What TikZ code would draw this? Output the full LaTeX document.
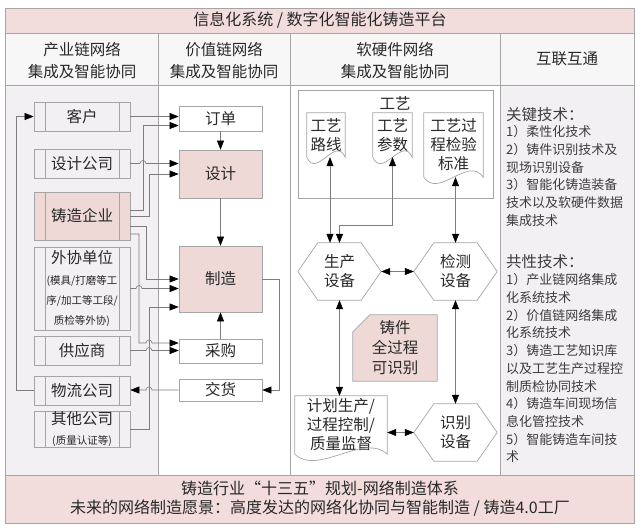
\documentclass[tikz,border=0pt]{standalone}
\usepackage{fontspec}
\setmainfont{Noto Sans CJK SC}
\usetikzlibrary{arrows.meta,calc,backgrounds}

\definecolor{bandpink}{RGB}{242,221,220}
\definecolor{boxpink}{RGB}{238,217,215}
\definecolor{sidegray}{RGB}{242,240,242}
\definecolor{headgray}{RGB}{247,247,247}
\definecolor{framegray}{RGB}{165,165,165}
\definecolor{wiregray}{RGB}{125,125,125}
\definecolor{inkgray}{RGB}{40,40,40}

\newcommand{\minor}{\fontsize{10.5}{15}\selectfont}

% outlines drawn round plain rectangular nodes
\newcommand{\hexframe}[1]{%
  \draw[outline] (#1.west) -- ([xshift=20pt]#1.north west) -- ([xshift=-20pt]#1.north east)
    -- (#1.east) -- ([xshift=-20pt]#1.south east) -- ([xshift=20pt]#1.south west) -- cycle;}
\newcommand{\docframe}[1]{%
  \draw[outline] (#1.south west) -- (#1.north west) -- (#1.north east) -- (#1.south east)
    .. controls ($(#1.south east)!0.5!(#1.south)+(0,-22)$) and ($(#1.south)!0.5!(#1.south west)+(0,22)$) .. (#1.south west);}
\newcommand{\cardframe}[1]{%
  \draw[outline, fill=boxpink] ([xshift=17pt]#1.north west) -- (#1.north east) -- (#1.south east)
    -- (#1.south west) -- ([yshift=-17pt]#1.north west) -- cycle;}

\begin{document}
\begin{tikzpicture}[x=1pt, y=-1pt,
    txt/.style={text=inkgray, font=\fontsize{15.5}{20}\selectfont, align=center, inner sep=0pt},
    note/.style={text=inkgray!90, font=\fontsize{13}{17.7}\selectfont, align=left, inner sep=0pt},
    notehead/.style={text=inkgray!90, font=\fontsize{15.5}{18}\selectfont, inner sep=0pt},
    grid/.style={draw=framegray, line width=0.7pt},
    outline/.style={draw=framegray, line width=0.7pt},
    sidebox/.style={txt, outline, fill=sidegray, minimum width=96pt,
      path picture={\draw[framegray, line width=0.7pt]
        ([xshift=11pt]path picture bounding box.north west) -- ([xshift=11pt]path picture bounding box.south west)
        ([xshift=-11pt]path picture bounding box.north east) -- ([xshift=-11pt]path picture bounding box.south east);}},
    stepbox/.style={txt, outline, fill=white, minimum width=83pt},
    hexa/.style={txt, font=\fontsize{15.5}{19}\selectfont, minimum width=83pt, minimum height=57pt},
    doc/.style={txt, font=\fontsize{15.5}{19}\selectfont, minimum height=44pt},
    card/.style={txt, font=\fontsize{15.5}{20}\selectfont, minimum width=84pt, minimum height=66pt},
    wire/.style={draw=wiregray, line width=0.6pt},
    flow/.style={wire, -{Triangle[length=9pt, width=7pt, color=black]}},
    twoway/.style={wire, {Triangle[length=9pt, width=7pt, color=black]}-{Triangle[length=9pt, width=7pt, color=black]}}]
        \useasboundingbox (0,0) rectangle (640,528);

        % Panels
        \fill[bandpink] (5,8) rectangle (634,33);
        \fill[headgray] (5,33) rectangle (634,85);
        \fill[sidegray] (5,85) rectangle (158,475);
        \fill[sidegray] (500,85) rectangle (634,475);
        \fill[bandpink] (5,475) rectangle (634,523);
        \draw[grid] (5,8) rectangle (634,523);
        \draw[grid] (5,33) -- (634,33) (5,85) -- (634,85) (5,475) -- (634,475);
        \draw[grid] (158,33) -- (158,475) (290,33) -- (290,475) (500,33) -- (500,475);
        \draw[grid] (298,90) rectangle (493,198);

        % Nodes (bands and column heads)
        \node[txt, font=\fontsize{16}{20}\selectfont] (platform) at (320,20.5) {信息化系统 / 数字化智能化铸造平台};
        \node[txt, font=\fontsize{15.5}{22}\selectfont] (colchain) at (82,61) {产业链网络\\集成及智能协同};
        \node[txt, font=\fontsize{15.5}{22}\selectfont] (colvalue) at (224,61) {价值链网络\\集成及智能协同};
        \node[txt, font=\fontsize{15.5}{22}\selectfont] (colsoft) at (395,61) {软硬件网络\\集成及智能协同};
        \node[txt] (collink) at (567,59) {互联互通};
        \node[txt, font=\fontsize{16}{19}\selectfont] (footer) at (320,499) {铸造行业“十三五”规划-网络制造体系\\未来的网络制造愿景：高度发达的网络化协同与智能制造 / 铸造4.0工厂};

        % Nodes (industry chain)
        \node[sidebox, minimum height=29pt] (kehu) at (82,116.5) {客户};
        \node[sidebox, minimum height=29pt] (sjgs) at (82,163.5) {设计公司};
        \node[sidebox, minimum height=48pt, fill=boxpink] (zzqy) at (82,216) {铸造企业};
        \node[sidebox, minimum height=83pt] (wxdw) at (82,288.5) {外协单位\\[1pt]\minor (模具/打磨等工\\\minor 序/加工等工段/\\\minor 质检等外协)};
        \node[sidebox, minimum height=29pt] (gys) at (82,350.5) {供应商};
        \node[sidebox, minimum height=29pt] (wlgs) at (82,390.5) {物流公司};
        \node[sidebox, minimum height=36pt] (qtgs) at (82,429) {其他公司\\\minor (质量认证等)};

        % Nodes (value chain)
        \node[stepbox, minimum height=25pt] (dd) at (220.5,118.5) {订单};
        \node[stepbox, minimum height=48pt, fill=boxpink] (sj) at (220.5,174) {设计};
        \node[stepbox, minimum height=66pt, fill=boxpink] (zz) at (220.5,279) {制造};
        \node[stepbox, minimum height=24pt] (cg) at (220.5,351) {采购};
        \node[stepbox, minimum height=22pt] (jh) at (220.5,390) {交货};

        % Nodes (software and hardware)
        \node[txt] (gongyi) at (395,103) {工艺};
        \node[doc, minimum width=38pt] (gylx) at (326,135) {工艺\\路线};
        \node[doc, minimum width=39pt] (gycs) at (392.5,135) {工艺\\参数};
        \node[doc, minimum width=59pt, minimum height=64pt] (gybz) at (453.5,145) {工艺过\\程检验\\标准};
        \node[hexa] (scsb) at (339.5,271.5) {生产\\设备};
        \node[hexa] (jcsb) at (455.5,271.5) {检测\\设备};
        \node[hexa] (sbsb) at (455.5,432.5) {识别\\设备};
        \node[doc, minimum width=92pt, minimum height=58pt] (jhsc) at (341,425) {计划生产/\\过程控制/\\质量监督};
        \node[card] (zjsb) at (395,348) {铸件\\全过程\\可识别};
        \docframe{gylx}
        \docframe{gycs}
        \docframe{gybz}
        \docframe{jhsc}
        \hexframe{scsb}
        \hexframe{jcsb}
        \hexframe{sbsb}
        \begin{scope}[on background layer]
          \cardframe{zjsb}
        \end{scope}

        % Nodes (interconnection)
        \node[notehead, anchor=west] (keytech) at (506,115) {关键技术：};
        \node[note, anchor=north west] (keylist) at (506,125.5) {1）柔性化技术\\2）铸件识别技术及\\现场识别设备\\3）智能化铸造装备\\技术以及软硬件数据\\集成技术};
        \node[notehead, anchor=west] (commontech) at (506,262) {共性技术：};
        \node[note, anchor=north west] (commonlist) at (506,273.5) {1）产业链网络集成\\化系统技术\\2）价值链网络集成\\化系统技术\\3）铸造工艺知识库\\以及工艺生产过程控\\制质检协同技术\\4）铸造车间现场信\\息化管控技术\\5）智能铸造车间技\\术};

        % Lanes and entry points between the two left columns
        \coordinate (laneA) at (139,0);
        \coordinate (laneB) at (143,0);
        \coordinate (laneC) at (146,0);
        \coordinate (laneD) at (149,0);
        \coordinate (dd2) at ([yshift=-7pt]dd.west);
        \coordinate (zz3) at ([yshift=-28pt]zz.west);
        \coordinate (cg1) at ([yshift=8pt]cg.west);

        % Edges (industry chain to value chain)
        \draw[flow] (kehu.east) -- (kehu.east -| dd.west);
        \draw[flow] ([yshift=6pt]zzqy.east) -| (laneB |- dd2) -- (dd2);
        \draw[flow] (sjgs.east) -- ([xshift=-3pt]laneB |- sjgs.east) arc[start angle=180, end angle=0, radius=3pt] -- (sjgs.east -| sj.west);
        \draw[flow] (zzqy.east) -| (laneD |- sj.west) -- (sj.west);
        \draw[flow] ([yshift=-10pt]zzqy.east) -| (laneC |- zz.west) -- (zz.west);
        \draw[flow] (wxdw.east) -- ([xshift=-3pt]laneA |- wxdw.east) arc[start angle=180, end angle=0, radius=3pt] -- (wxdw.east -| zz.west);
        \draw[flow] (qtgs.east) -| (laneD |- zz3) -- (zz3);
        \draw[flow] ([yshift=-18pt]zzqy.east) -| (laneA |- cg1) -- ([xshift=-3pt]laneD |- cg1) arc[start angle=180, end angle=0, radius=3pt] -- (cg1);
        \draw[flow] (gys.east) -- ([xshift=-3pt]laneD |- gys.east) arc[start angle=180, end angle=0, radius=3pt] -- (gys.east -| cg.west);
        \draw[flow] (jh.west) -- ([xshift=3pt]laneD |- jh.west) arc[start angle=0, end angle=180, radius=3pt] -- (jh.west -| wlgs.east);
        \draw[flow] (wlgs.west) -- ++(-17,0) |- (kehu.west);

        % Edges (value chain)
        \draw[flow] (dd.south) -- (sj.north);
        \draw[flow] (sj.south) -- (zz.north);
        \draw[flow] (cg.north) -- (zz.south);
        \draw[flow] (zz.east) -- ++(17,0) |- (jh.east);

        % Edges (software and hardware)
        \draw[twoway] ([xshift=4pt]gylx.south) -- ([xshift=4pt]gylx.south |- scsb.north);
        \draw[twoway] (gycs.south) -- ++(0,68) -| (scsb.north);
        \draw[twoway] (gybz.south -| jcsb.north) -- (jcsb.north);
        \draw[twoway] (scsb.east) -- (jcsb.west);
        \draw[twoway] (scsb.south) -- (scsb.south |- jhsc.north);
        \draw[twoway] (jcsb.south) -- (sbsb.north);
        \draw[twoway] (jhsc.east |- sbsb.west) -- (sbsb.west);
      \end{tikzpicture}
\end{document}
